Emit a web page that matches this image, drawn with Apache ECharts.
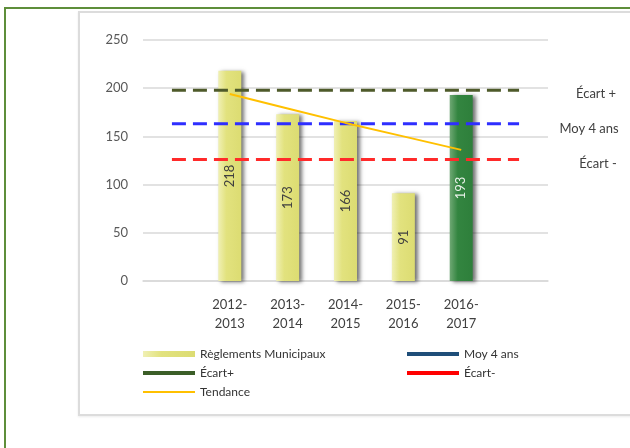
<!DOCTYPE html>
<html>
<head>
<meta charset="utf-8">
<script src="https://cdn.jsdelivr.net/npm/echarts@6/dist/echarts.min.js"></script>
<style>
  html, body { margin: 0; padding: 0; background: #fff; }
  #wrap { position: relative; width: 630px; height: 448px; overflow: hidden; }
  #frame { position: absolute; left: 4px; top: 7px; width: 700px; height: 500px;
           border-left: 2px solid #5E8E3A; border-top: 2px solid #5E8E3A; }
  #box { position: absolute; left: 78px; top: 11px; width: 600px; height: 401px;
         border: 2px solid #DCDCDC; box-shadow: 0 1px 2px rgba(0,0,0,0.08); }
  #chart { position: absolute; left: 0; top: 0; width: 630px; height: 448px; }
</style>
</head>
<body>
<div id="wrap">
  <div id="frame"></div>
  <div id="box"></div>
  <div id="chart"></div>
</div>
<script>
  // catégories (vides aux deux bouts pour les lignes)
  var categories = ['', '2012-\n2013', '2013-\n2014', '2014-\n2015', '2015-\n2016', '2016-\n2017', ''];
  var reglements = [null, 218, 173, 166, 91, 193, null];
  var ecartPlus = [198, 198, 198, 198, 198, 198, 198];
  var moy4ans = [163, 163, 163, 163, 163, 163, 163];
  var ecartMoins = [126, 126, 126, 126, 126, 126, 126];
  var tendance = [null, 194, 179, 164, 150, 136, null];
  var yTicks = [0, 50, 100, 150, 200, 250];

  var font = 'Lato, "Open Sans", sans-serif';

  var jaune = new echarts.graphic.LinearGradient(0, 0, 1, 0, [
    {offset: 0, color: '#F0F0B4'},
    {offset: 0.35, color: '#E2E27E'},
    {offset: 1, color: '#DCDC72'}
  ]);
  var vert = new echarts.graphic.LinearGradient(0, 0, 1, 0, [
    {offset: 0, color: '#6FA874'},
    {offset: 0.35, color: '#338540'},
    {offset: 1, color: '#2E7F3B'}
  ]);

  var barData = reglements.map(function (v, i) {
    if (v == null) return null;
    if (i == 5) {
      return {value: v, itemStyle: {color: vert}, label: {color: '#E8F0E8'}};
    }
    return v;
  });

  var myChart = echarts.init(document.getElementById('chart'));
  myChart.setOption({
    animation: false,
    textStyle: {fontFamily: font},
    grid: {left: 143, right: 82, top: 40, bottom: 167},
    legend: [
      {
        orient: 'vertical', left: 138, top: 343, itemWidth: 52, itemHeight: 6, itemGap: 7,
        textStyle: {color: '#333', fontSize: 12, fontFamily: font},
        itemStyle: {borderWidth: 0},
        data: [
          {name: 'Règlements Municipaux', icon: 'rect'},
          {name: 'Écart+', icon: 'path://M0,0h52v4h-52z', itemStyle: {color: '#3B5E28'}},
          {name: 'Tendance', icon: 'path://M0,0h52v2h-52z', itemStyle: {color: '#FFC000'}}
        ]
      },
      {
        orient: 'vertical', left: 402, top: 343, itemWidth: 52, itemHeight: 6, itemGap: 7,
        textStyle: {color: '#333', fontSize: 12, fontFamily: font},
        itemStyle: {borderWidth: 0},
        data: [
          {name: 'Moy 4 ans', icon: 'path://M0,0h52v4h-52z', itemStyle: {color: '#1F4E79'}},
          {name: 'Écart-', icon: 'path://M0,0h52v4h-52z', itemStyle: {color: '#FF0000'}}
        ]
      }
    ],
    xAxis: {
      type: 'category',
      data: categories,
      axisTick: {show: false},
      axisLine: {lineStyle: {color: '#D9D9D9', width: 1.5}},
      axisLabel: {color: '#404040', fontSize: 13, lineHeight: 19, margin: 14, interval: 0}
    },
    yAxis: {
      type: 'value',
      min: yTicks[0], max: yTicks[yTicks.length - 1], interval: 50,
      axisLine: {show: false},
      axisTick: {show: false},
      axisLabel: {color: '#595959', fontSize: 13, margin: 15},
      splitLine: {lineStyle: {color: '#D9D9D9', width: 1.5}}
    },
    series: [
      {
        name: 'Règlements Municipaux',
        type: 'bar',
        barWidth: 23,
        data: barData,
        itemStyle: {
          color: jaune,
          shadowColor: 'rgba(0,0,0,0.55)', shadowBlur: 4, shadowOffsetX: 3, shadowOffsetY: 1
        },
        label: {show: true, position: 'inside', rotate: 90, color: '#404040', fontSize: 13, fontFamily: font}
      },
      {
        name: 'Écart+',
        type: 'line',
        symbol: 'none',
        data: ecartPlus,
        lineStyle: {color: '#4E5A2A', width: 3, type: [14, 7]},
        endLabel: {show: true, formatter: 'Écart +', align: 'center', distance: 77, offset: [0, 4],
                   color: '#404040', fontSize: 13, fontFamily: font}
      },
      {
        name: 'Moy 4 ans',
        type: 'line',
        symbol: 'none',
        data: moy4ans,
        lineStyle: {color: '#2E2EFF', width: 3, type: [14, 7]},
        endLabel: {show: true, formatter: 'Moy 4 ans', align: 'center', distance: 70, offset: [0, 5],
                   color: '#404040', fontSize: 13, fontFamily: font}
      },
      {
        name: 'Écart-',
        type: 'line',
        symbol: 'none',
        data: ecartMoins,
        lineStyle: {color: '#FF2A2A', width: 3, type: [14, 7]},
        endLabel: {show: true, formatter: 'Écart -', align: 'center', distance: 79, offset: [0, 4],
                   color: '#404040', fontSize: 13, fontFamily: font}
      },
      {
        name: 'Tendance',
        type: 'line',
        symbol: 'none',
        data: tendance,
        lineStyle: {color: '#FFC000', width: 2}
      }
    ]
  });
</script>
</body>
</html>
